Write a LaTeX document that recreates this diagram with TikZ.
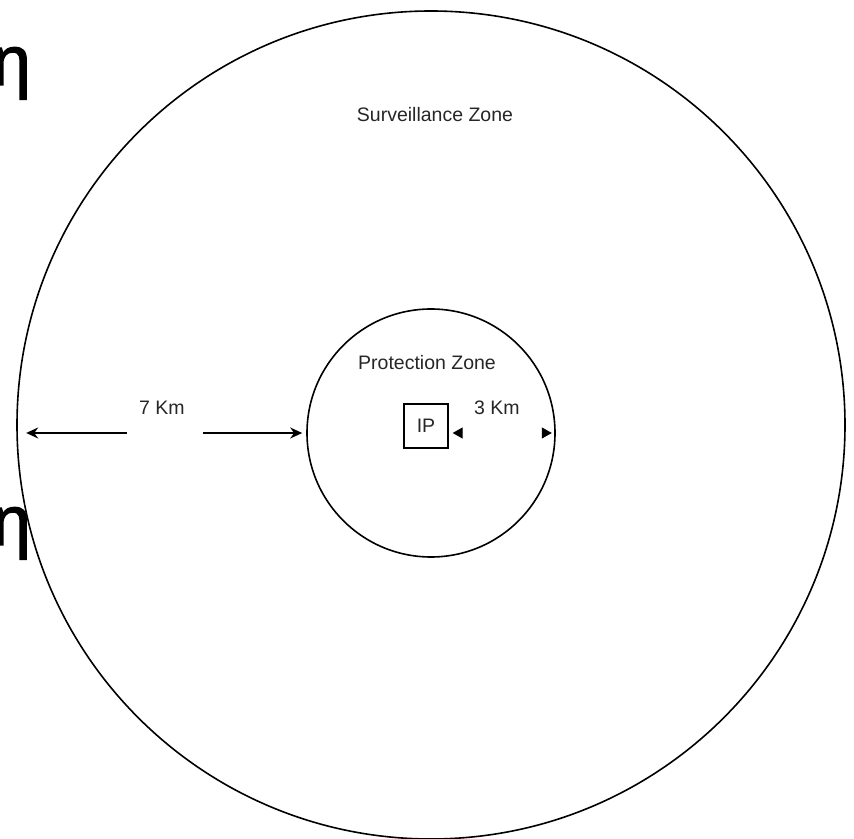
\documentclass[tikz,border=0pt]{standalone}
\usepackage{fontspec}
\setmainfont{Liberation Sans}
\newfontfamily\greekfont[FakeBold=2]{Liberation Sans}
\usetikzlibrary{arrows.meta}
\tikzset{
	zone/.style={draw,circle,line width=1.6pt,inner sep=0pt},
	label text/.style={text=black!85,font=\fontsize{19.5}{22}\selectfont,inner sep=0pt},
	dist arrow/.style={line width=1.5pt,-{Stealth[length=12pt,width=11pt]}},
	tip only/.style={white,line width=1pt,{Triangle[black,length=10pt,width=11pt]}-{Triangle[black,length=10pt,width=11pt]}}
}
\begin{document}
\begin{tikzpicture}[x=1pt,y=1pt]
		\useasboundingbox (0,0) rectangle (854,838);
		% stray letters cut off at the page edge
		\node[anchor=base east,inner sep=0pt,font=\greekfont\fontsize{70}{70}\selectfont] (etatop) at (31,753) {η};
		\node[anchor=base east,inner sep=0pt,font=\greekfont\fontsize{70}{70}\selectfont] (etamid) at (31,293) {η};
		% zones
		\node[zone,minimum size=828pt] (outer) at (431,413) {};
		\node[zone,minimum size=248pt] (inner) at (431,405) {};
		\node[draw,line width=1.3pt,minimum size=44pt,inner sep=0pt,label text] (ip) at (426,412) {IP};
		\node[label text] (survlabel) at (435,723) {Surveillance Zone};
		\node[label text] (protlabel) at (427,475) {Protection Zone};
		% distances
		\node[label text] (sevenkm) at (162,430) {7 Km};
		\node[label text] (threekm) at (497,430) {3 Km};
		\coordinate (gapleft) at (127,405);
		\coordinate (gapright) at (203,405);
		\draw[dist arrow] (gapleft) -- ([xshift=10pt]outer.west |- inner.west);
		\draw[dist arrow] (gapright) -- ([xshift=-4pt]inner.west);
		\draw[tip only] ([xshift=4pt]ip.east |- inner.east) -- ([xshift=-4pt]inner.east);
	\end{tikzpicture}
\end{document}
